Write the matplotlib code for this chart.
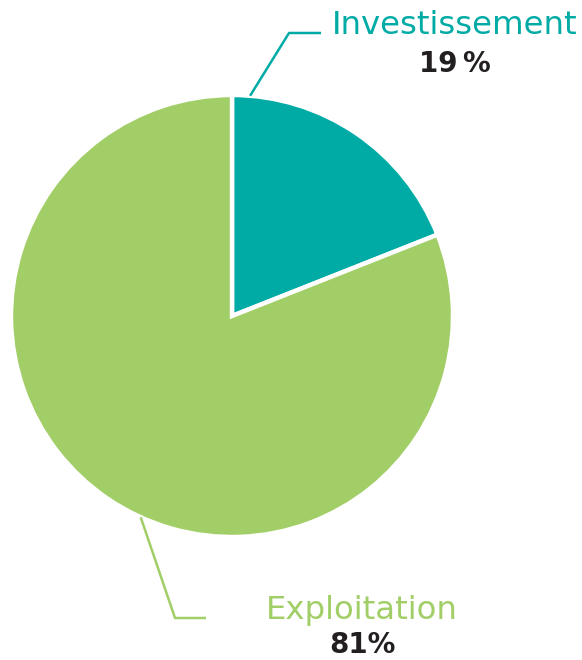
import numpy as np
import matplotlib
matplotlib.use("Agg")
import matplotlib.pyplot as plt

categories = ["Investissement", "Exploitation"]
shares = [19, 81]
colors = ["#00ABA6", "#A1CE67"]
value_labels = ["19\u2009%", "81%"]

W, H = 582, 660
fig = plt.figure(figsize=(W / 100, H / 100), dpi=100)
ax = fig.add_axes([0, 0, 1, 1])

cx, cy, r = 232, H - 316, 221
wedges, _ = ax.pie(shares, colors=colors, startangle=90, counterclock=False,
                   center=(cx, cy), radius=r, frame=True,
                   wedgeprops=dict(edgecolor="white", linewidth=3.2))
ax.set_xlim(0, W)
ax.set_ylim(0, H)
ax.axis("off")

# leader lines: anchor on the rim, elbow, horizontal tail
leaders = [
    dict(angle=85.3, elbow=(289, H - 33), tail=(321, H - 33)),
    dict(angle=245.6, elbow=(175, H - 618), tail=(206, H - 618)),
]
for ld, col in zip(leaders, colors):
    a = np.deg2rad(ld["angle"])
    x0, y0 = cx + r * np.cos(a), cy + r * np.sin(a)
    ax.plot([x0, ld["elbow"][0], ld["tail"][0]],
            [y0, ld["elbow"][1], ld["tail"][1]],
            color=col, lw=1.8, solid_capstyle="butt")

label_pos = [(455, H - 26), (362, H - 610)]
value_pos = [(455, H - 64), (362, H - 645)]
for name, val, col, (lx, ly), (vx, vy) in zip(categories, value_labels, colors,
                                              label_pos, value_pos):
    ax.text(lx, ly, name, color=col, fontsize=23.3, ha="center", va="center",
            family="DejaVu Sans")
    ax.text(vx, vy, val, color="#231F20", fontsize=20, fontweight="heavy",
            ha="center", va="center", family="DejaVu Sans")

fig.savefig("out.png", dpi=100, facecolor="white")
